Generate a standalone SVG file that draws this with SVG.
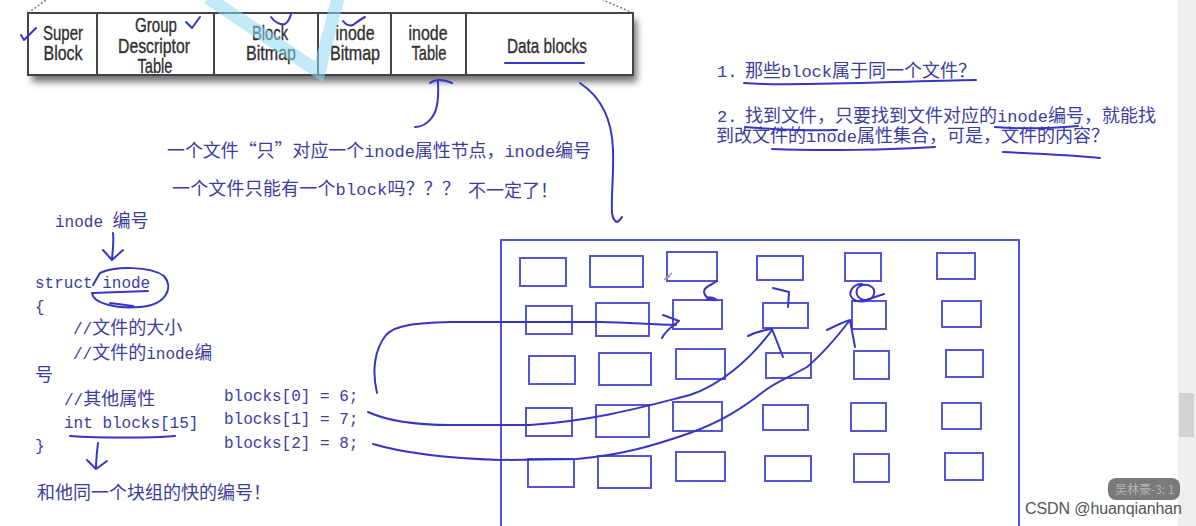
<svg xmlns="http://www.w3.org/2000/svg" width="1196" height="526" viewBox="0 0 1196 526">
<defs>
<style>
.tbl{font-family:"Liberation Sans",Arial,sans-serif;font-size:21px;fill:#2f2f2f;stroke:#2f2f2f;stroke-width:0.35;text-anchor:middle}
.cell{fill:#fff;stroke:#444;stroke-width:2}
.cn{font-family:"Noto Sans CJK SC",sans-serif;font-size:18px;fill:#3d3d9e}
.l{font-family:"Liberation Mono",monospace;font-size:17px}
.code{font-family:"Liberation Mono","Noto Sans CJK SC",monospace;font-size:16px;fill:#3d3d9e}
.c{font-family:"Noto Sans CJK SC",sans-serif;font-size:18px}
.box{fill:none;stroke:#5656d4;stroke-width:2}
.ink{fill:none;stroke:#3636c4;stroke-width:2;stroke-linecap:round;stroke-linejoin:round}
</style>
<filter id="sh" x="-5%" y="-30%" width="110%" height="180%">
<feDropShadow dx="4" dy="7" stdDeviation="3.5" flood-color="#000" flood-opacity="0.55"/>
</filter>
</defs>
<rect width="1196" height="526" fill="#fff"/>
<rect x="1178" y="0" width="18" height="526" fill="#efefef"/>
<rect x="1179" y="393" width="15" height="44" fill="#d2d2d2"/>

<g id="block-group-table">
<path d="M28,13 L46,0 M633,13 L603,0" stroke="#777" stroke-width="1.5" stroke-dasharray="2,2" fill="none"/>
<rect x="28" y="13" width="605" height="62" fill="#fff" filter="url(#sh)"/>
<g id="cell-super-block"><rect class="cell" x="28" y="13" width="69" height="62"/>
<text class="tbl" x="63" y="40" textLength="40" lengthAdjust="spacingAndGlyphs">Super</text>
<text class="tbl" x="63" y="60" textLength="39" lengthAdjust="spacingAndGlyphs">Block</text></g>
<g id="cell-gdt"><rect class="cell" x="97" y="13" width="117" height="62"/>
<text class="tbl" x="156" y="32" textLength="42" lengthAdjust="spacingAndGlyphs">Group</text>
<text class="tbl" x="154" y="53" textLength="72" lengthAdjust="spacingAndGlyphs">Descriptor</text>
<text class="tbl" x="155" y="73" textLength="35" lengthAdjust="spacingAndGlyphs">Table</text></g>
<g id="cell-block-bitmap"><rect class="cell" x="214" y="13" width="104" height="62"/>
<text class="tbl" x="270" y="40" textLength="36" lengthAdjust="spacingAndGlyphs">Block</text>
<text class="tbl" x="271" y="60" textLength="50" lengthAdjust="spacingAndGlyphs">Bitmap</text></g>
<g id="cell-inode-bitmap"><rect class="cell" x="318" y="13" width="73" height="62"/>
<text class="tbl" x="355" y="40" textLength="39" lengthAdjust="spacingAndGlyphs">inode</text>
<text class="tbl" x="355" y="60" textLength="50" lengthAdjust="spacingAndGlyphs">Bitmap</text></g>
<g id="cell-inode-table"><rect class="cell" x="391" y="13" width="75" height="62"/>
<text class="tbl" x="428" y="40" textLength="39" lengthAdjust="spacingAndGlyphs">inode</text>
<text class="tbl" x="429" y="60" textLength="35" lengthAdjust="spacingAndGlyphs">Table</text></g>
<g id="cell-data-blocks"><rect class="cell" x="466" y="13" width="167" height="62"/>
<text class="tbl" x="547" y="53" textLength="80" lengthAdjust="spacingAndGlyphs">Data blocks</text></g>
<path d="M208,-2 L319,72 L338,-2" fill="none" stroke="#8fd9f3" stroke-width="13" stroke-opacity="0.55" stroke-linejoin="miter"/>
</g>

<g id="marks" class="ink">
<path class="ink" d="M21,35 L24,40 L36,28"/>
<path class="ink" d="M186,22 L192,28 L200,17"/>
<path class="ink" d="M271,17 C275,23 281,25 285,24 C288,22 290,18 291,14"/>
<path class="ink" d="M343,21 C346,25 350,26 353,25 C357,22 361,19 365,17"/>
<path class="ink" d="M505,63 L584,63"/>
</g>

<g id="questions">
<text class="cn" x="717" y="77"><tspan class="l">1.</tspan><tspan x="745">那些</tspan><tspan class="l">block</tspan>属于同一个文件？</text>
<text class="cn" x="717" y="122"><tspan class="l">2.</tspan><tspan x="745">找到文件，只要找到文件对应的</tspan><tspan class="l">inode</tspan>编号，就能找<tspan x="716" y="142">到改文件的</tspan><tspan class="l">inode</tspan>属性集合，可是，文件的内容？</text>
</g>

<g id="notes">
<text class="cn" x="167" y="157" textLength="424">一个文件“只”对应一个<tspan class="l">inode</tspan>属性节点，<tspan class="l">inode</tspan>编号</text>
<text class="cn" x="172" y="195" textLength="288">一个文件只能有一个<tspan class="l">block</tspan>吗？？？</text>
<text class="cn" x="468" y="197">不一定了！</text>
</g>

<g id="struct-inode">
<text class="code" x="55" y="227">inode <tspan class="c">编号</tspan></text>
<text class="code" x="35" y="288">struct inode</text>
<text class="code" x="35" y="312">{</text>
<text class="code" x="73" y="334">//<tspan class="c">文件的大小</tspan></text>
<text class="code" x="73" y="359">//<tspan class="c">文件的</tspan>inode<tspan class="c">编</tspan></text>
<text class="code" x="35" y="381"><tspan class="c">号</tspan></text>
<text class="code" x="64" y="405">//<tspan class="c">其他属性</tspan></text>
<text class="code" x="64" y="428">int blocks[15]</text>
<text class="code" x="35" y="451">}</text>
<text class="code" x="37" y="499"><tspan class="c">和他同一个块组的快的编号！</tspan></text>
</g>

<g id="blocks-values">
<text class="code" x="224" y="401">blocks[0] = 6;</text>
<text class="code" x="224" y="424">blocks[1] = 7;</text>
<text class="code" x="224" y="448">blocks[2] = 8;</text>
</g>

<g id="data-blocks-area">
<rect class="box" x="501" y="240" width="518" height="300"/>
<g id="r1"><rect class="box" x="520" y="258" width="46" height="28"/><rect class="box" x="590" y="256" width="53" height="31"/><rect class="box" x="667" y="252" width="50" height="29"/><rect class="box" x="757" y="256" width="46" height="24"/><rect class="box" x="845" y="253" width="36" height="28"/><rect class="box" x="937" y="253" width="38" height="26"/></g>
<g id="r2"><rect class="box" x="526" y="306" width="46" height="28"/><rect class="box" x="596" y="303" width="53" height="33"/><rect class="box" x="673" y="300" width="49" height="29"/><rect class="box" x="763" y="303" width="45" height="25"/><rect class="box" x="852" y="301" width="34" height="28"/><rect class="box" x="942" y="301" width="39" height="26"/></g>
<g id="r3"><rect class="box" x="529" y="356" width="46" height="28"/><rect class="box" x="599" y="353" width="52" height="32"/><rect class="box" x="676" y="349" width="49" height="30"/><rect class="box" x="766" y="353" width="45" height="25"/><rect class="box" x="854" y="351" width="35" height="28"/><rect class="box" x="946" y="350" width="37" height="27"/></g>
<g id="r4"><rect class="box" x="526" y="408" width="46" height="28"/><rect class="box" x="596" y="405" width="53" height="32"/><rect class="box" x="673" y="402" width="49" height="29"/><rect class="box" x="763" y="405" width="45" height="25"/><rect class="box" x="851" y="403" width="35" height="28"/><rect class="box" x="942" y="403" width="39" height="26"/></g>
<g id="r5"><rect class="box" x="528" y="459" width="46" height="28"/><rect class="box" x="598" y="456" width="53" height="32"/><rect class="box" x="676" y="452" width="49" height="29"/><rect class="box" x="765" y="456" width="46" height="25"/><rect class="box" x="854" y="454" width="35" height="28"/><rect class="box" x="945" y="453" width="38" height="27"/></g>
<path d="M664,280 L672,273 M666,279 L670,276" stroke="#9a9a9a" stroke-width="1.5" fill="none"/>
</g>

<g id="connectors" class="ink">
<path class="ink" d="M744,83 C790,87 900,81 976,80"/>
<path class="ink" d="M745,127 C780,130 810,131 837,130"/>
<path class="ink" d="M995,127 C1020,129 1055,128 1078,126"/>
<path class="ink" d="M772,149 C820,151 890,150 935,147"/>
<path class="ink" d="M1003,152 C1040,154 1075,155 1100,158"/>
<path class="ink" d="M415,127 C425,127 435,118 437,105 C439,95 438,87 438,80 M430,83 C434,80 440,78 452,83"/>
<path class="ink" d="M580,83 C598,95 612,115 613,150 C614,175 611,195 612,213 C613,220 616,222 617,222 C619,221 621,219 622,217"/>
<path class="ink" d="M113,233 C114,242 113,250 112,258 M103,250 L112,260 L123,250"/>
<path class="ink" d="M93,285 L100,273 C115,266 150,266 164,276 C174,288 166,305 140,307 C115,309 93,303 92,293 M93,293 L148,291 M110,303 L133,306"/>
<path class="ink" d="M70,436 C100,438 150,438 175,436"/>
<path class="ink" d="M98,443 C97,452 96,460 96,468 M87,460 L96,469 L107,461"/>
<path class="ink" d="M377,393 C372,372 374,350 386,335 C396,324 420,323 450,322 L600,322 C630,322 650,325 676,325 M663,315 L679,321 C672,326 665,332 662,338"/>
<path class="ink" d="M368,412 C390,422 420,425 450,425 L530,425 C600,420 650,405 690,395 C720,385 750,360 772,330 M748,336 C756,332 764,330 772,329 L783,357"/>
<path class="ink" d="M373,444 C400,452 440,458 500,460 L577,459 C620,455 650,447 690,433 C720,422 740,410 763,392 C775,382 790,377 807,367 C825,352 840,333 850,320 M827,330 C835,326 843,322 850,320 L855,347"/>
<path class="ink" d="M717,281 C712,285 703,287 704,292 C705,298 712,301 717,300 C713,297 708,296 707,300"/>
<path class="ink" d="M773,288 L789,292 L788,307"/>
<path class="ink" d="M862,284 C852,284 848,293 852,298 C858,304 872,302 874,294 C876,286 866,283 860,286 C854,290 856,300 866,300 L884,294"/>
</g>

<g id="watermark">
<rect x="1108" y="478" width="72" height="22" rx="8" fill="#7a7a7a"/>
<text x="1115" y="494" font-family="Noto Sans CJK SC,sans-serif" font-size="12" fill="#b5b5b5">吴林豪-3: 1</text>
<text x="1025" y="514" font-family="Liberation Sans,Arial,sans-serif" font-size="16" fill="#555" textLength="157">CSDN @huanqianhan</text>
</g>
</svg>
